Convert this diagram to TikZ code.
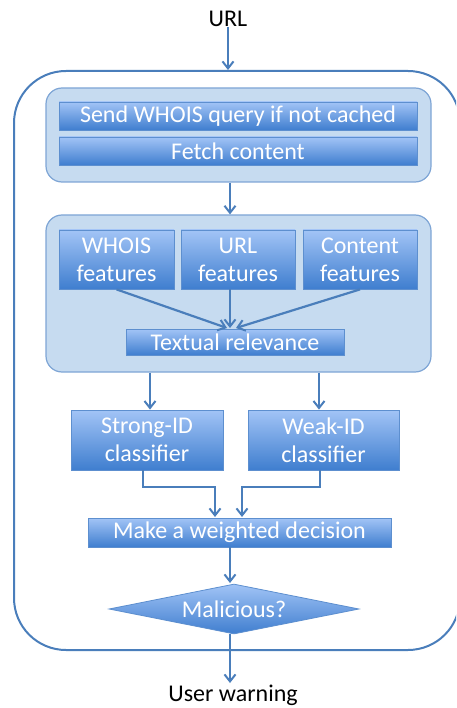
\documentclass[tikz,border=0pt]{standalone}
\usepackage{fontspec}
\setmainfont{Carlito}
\usetikzlibrary{arrows.meta,shapes.geometric}
\definecolor{flow}{HTML}{4A7EBB}
\definecolor{boxtop}{HTML}{A2C4F6}
\definecolor{boxbot}{HTML}{3F7ECF}
\definecolor{boxline}{HTML}{5D8FCF}
\definecolor{groupfill}{HTML}{C6DBF0}
\definecolor{groupline}{HTML}{7EA5D5}
\tikzset{
  x=1pt, y=-1pt,
  label text/.style={font=\fontsize{24}{28}\selectfont, text=black, inner sep=0pt},
  stepbox/.style={draw=boxline, line width=0.8pt, top color=boxtop, bottom color=boxbot,
    text=white, font=\fontsize{24}{28}\selectfont, align=center, inner sep=0pt},
  groupbox/.style={draw=groupline, line width=1.2pt, fill=groupfill, rounded corners=16pt, inner sep=0pt},
  outerbox/.style={draw=flow, line width=2pt, rounded corners=52pt, inner sep=0pt},
  link/.style={draw=flow, line width=2.2pt, -{Straight Barb[length=7pt,width=11pt,line width=2pt]}},
}
\begin{document}
\begin{tikzpicture}
\useasboundingbox (0,0) rectangle (456,708);
\clip (0,0) rectangle (456,708);

% outer frame of the whole pipeline
\node[outerbox, minimum width=446pt, minimum height=579pt] (frame) at (237,360.5) {};

% input / output labels
\node[label text, anchor=base] (url) at (228,27) {URL};
\node[label text, anchor=base] (warn) at (233,701) {User warning};

% stage 1: retrieval
\node[groupbox, minimum width=385pt, minimum height=94pt] (g1) at (238.5,135) {};
\node[stepbox, minimum width=358pt, minimum height=28pt] (whois) at (238,116) {Send WHOIS query if not cached};
\node[stepbox, minimum width=358pt, minimum height=28pt] (fetch) at (238,151) {Fetch content};

% stage 2: feature extraction
\node[groupbox, minimum width=385pt, minimum height=157pt] (g2) at (238.5,293.5) {};
\node[stepbox, minimum width=115pt, minimum height=59pt] (fw) at (116.5,259.5) {WHOIS\\features};
\node[stepbox, minimum width=114pt, minimum height=59pt] (fu) at (238,259.5) {URL\\features};
\node[stepbox, minimum width=114pt, minimum height=59pt] (fc) at (360,259.5) {Content\\features};
\node[stepbox, minimum width=218pt, minimum height=26pt] (tr) at (235,342) {Textual relevance};

% stage 3: classifiers and decision
\node[stepbox, minimum width=152pt, minimum height=60pt] (strong) at (147,440) {Strong-ID\\classifier};
\node[stepbox, minimum width=151pt, minimum height=60pt] (weak) at (323.5,440) {Weak-ID\\classifier};
\node[stepbox, minimum width=303pt, minimum height=29pt] (decide) at (239.5,532.5) {Make a weighted decision};
\node[stepbox, diamond, aspect=5, minimum width=250pt, minimum height=50pt, inner sep=0pt] (mal) at (234,609) {Malicious?};

% connectors
\coordinate (p1) at (143,487);
\coordinate (p2) at (320,487);

\draw[link] (url.south -| 228,0) -- (frame.north -| 228,0);
\draw[link] (g1.south -| 230,0) -- (g2.north -| 230,0);
\draw[link] (fw.south) -- (227,328);
\draw[link] (fu.south -| 230,0) -- (230,328);
\draw[link] (fc.south) -- (236,328);
\draw[link] (g2.south -| 150,0) -- (strong.north -| 150,0);
\draw[link] (g2.south -| 319,0) -- (weak.north -| 319,0);
\draw[link] (strong.south -| p1) -- (p1) -| (215,517);
\draw[link] (weak.south -| p2) -- (p2) -| (242,517);
\draw[link] (decide.south -| 230,0) -- (230,583);
\draw[link] (mal.south -| 230,0) -- (230,683);
\end{tikzpicture}
\end{document}
